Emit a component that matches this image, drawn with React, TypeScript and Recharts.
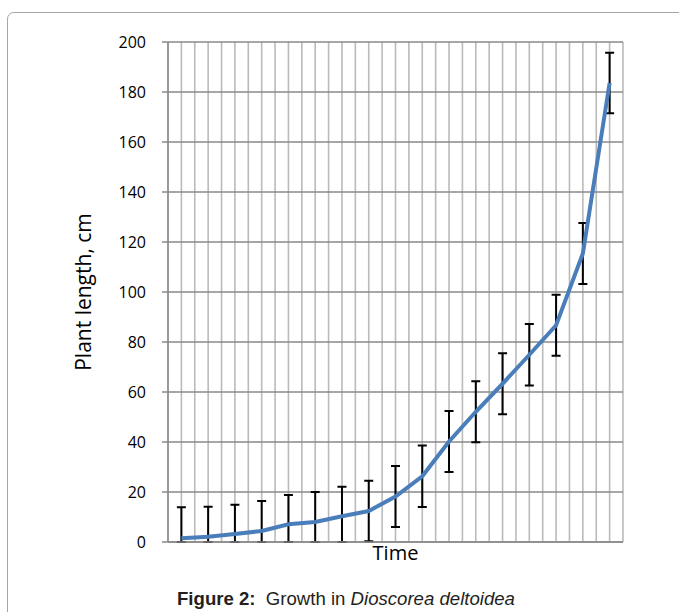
import { LineChart, Line, XAxis, YAxis, CartesianGrid, ErrorBar, Label } from "recharts";

// time points (categories 1..17)
const timePoints = [1, 2, 3, 4, 5, 6, 7, 8, 9, 10, 11, 12, 13, 14, 15, 16, 17];
// mean plant length, cm
const plantLength = [1.5, 2.1, 3.2, 4.4, 7.1, 8.0, 10.3, 12.4, 18.2, 26.3, 40.2, 52.1, 63.3, 74.9, 86.7, 115.4, 183.6];
// error (+/-), cm
const errorValues = [12.4, 12.0, 11.7, 12.0, 11.7, 12.0, 11.8, 12.1, 12.2, 12.3, 12.2, 12.2, 12.2, 12.3, 12.2, 12.2, 12.1];
const yTicks = [0, 20, 40, 60, 80, 100, 120, 140, 160, 180, 200];

// vertical gridlines at every half category, like the original
const xGridTicks: number[] = [];
for (let i = 0; i <= 34; i++) xGridTicks.push(0.5 + i * 0.5);

// lower whisker stops at the axis (plot is clipped at 0 in the original)
const data = timePoints.map((t, i) => ({
  t,
  length: plantLength[i],
  err: [Math.min(errorValues[i], plantLength[i]), errorValues[i]],
}));

const font = "'Open Sans', sans-serif";

export default function App() {
  return (
    <div style={{ position: "absolute", left: 0, top: 0, width: 679, height: 612, background: "#fff", overflow: "hidden" }}>
      <div
        style={{
          position: "absolute",
          left: 7,
          top: 12,
          width: 700,
          height: 640,
          border: "1px solid #a6a6a6",
          borderRadius: 7,
        }}
      />
      <div style={{ position: "absolute", left: 0, top: 0 }}>
        <LineChart
          width={679}
          height={612}
          data={data}
          margin={{ top: 42, right: 56, bottom: 40, left: 0 }}
        >
          <CartesianGrid horizontal={false} stroke="#bababa" strokeWidth={1.6} />
          <CartesianGrid vertical={false} stroke="#8a8a8a" strokeWidth={1.4} />
          <XAxis
            dataKey="t"
            type="number"
            domain={[0.5, 17.5]}
            ticks={xGridTicks}
            interval={0}
            tick={() => <g />}
            tickLine={false}
            axisLine={{ stroke: "#8a8a8a", strokeWidth: 1.5 }}
            height={30}
          >
            <Label value="Time" position="insideTop" offset={4} style={{ fontFamily: font, fontSize: 20, fill: "#000" }} />
          </XAxis>
          <YAxis
            type="number"
            domain={[0, 200]}
            ticks={yTicks}
            interval={0}
            allowDataOverflow
            width={168}
            tickSize={6}
            tickMargin={16}
            axisLine={{ stroke: "#8a8a8a", strokeWidth: 1.5 }}
            tickLine={{ stroke: "#8a8a8a", strokeWidth: 1.5 }}
            tick={{ fontFamily: font, fontSize: 16, fill: "#000" }}
          >
            <Label
              value="Plant length, cm"
              angle={-90}
              position="insideLeft"
              offset={84}
              style={{ fontFamily: font, fontSize: 21, fill: "#000", textAnchor: "middle" }}
            />
          </YAxis>
          <Line
            dataKey="length"
            stroke="#4A7EBB"
            strokeWidth={4}
            dot={false}
            isAnimationActive={false}
          >
            <ErrorBar dataKey="err" direction="y" width={4.5} stroke="#000" strokeWidth={2} />
          </Line>
        </LineChart>
      </div>
      <div
        style={{
          position: "absolute",
          left: 177,
          top: 588,
          fontFamily: "'Liberation Sans', Arial, sans-serif",
          fontSize: 18.6,
          color: "#231f20",
          whiteSpace: "nowrap",
        }}
      >
        <b>Figure 2:</b>&nbsp; Growth in <i>Dioscorea deltoidea</i>
      </div>
    </div>
  );
}
